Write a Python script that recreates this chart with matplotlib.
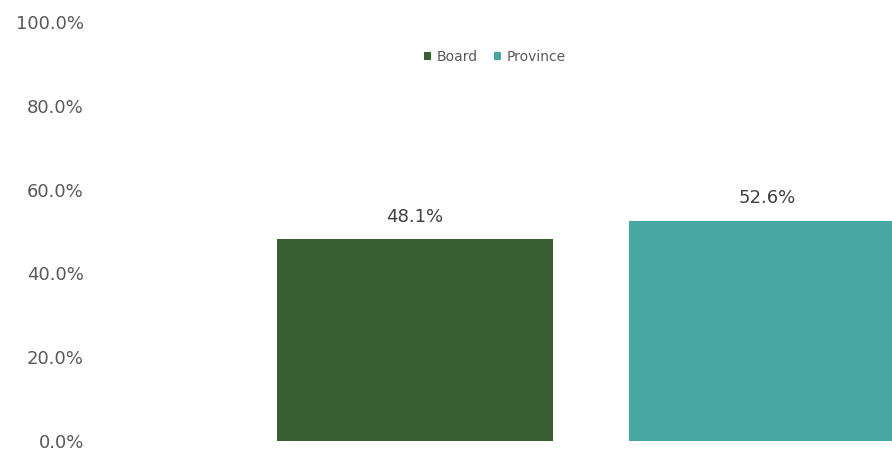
import matplotlib
matplotlib.use("Agg")
import matplotlib.pyplot as plt
from matplotlib.ticker import FuncFormatter

# Datos del gráfico
series = ["Board", "Province"]
valores = [48.1, 52.6]
colores = ["#3A5E33", "#49A7A3"]
ticks_y = [0, 20, 40, 60, 80, 100]

plt.rcParams["font.family"] = ["DejaVu Sans"]

fig = plt.figure(figsize=(8.92, 4.53), dpi=100)
ax = fig.add_axes([95 / 892, 12 / 453, 797 / 892, 419 / 453])

posiciones = list(range(len(series)))
barras = ax.bar(posiciones, valores, width=0.784, color=colores, label=series)

# Etiquetas de datos encima de cada barra
for pos, val in zip(posiciones, valores):
    ax.annotate(f"{val:.1f}%", (pos, val), xytext=(0, 10), textcoords="offset points",
                ha="center", va="bottom", fontsize=13, color="#404040")

ax.set_xlim(-0.909, 1.355)
ax.set_ylim(0, 100)
ax.set_yticks(ticks_y)
ax.yaxis.set_major_formatter(FuncFormatter(lambda v, _: f"{v:.1f}%"))
ax.tick_params(axis="y", length=0, pad=8, labelsize=13, labelcolor="#595959")
ax.set_xticks([])
for lado in ax.spines.values():
    lado.set_visible(False)

fig.legend(barras, series, loc="center", bbox_to_anchor=(495 / 892, 1 - 57 / 453),
           ncol=2, frameon=False, fontsize=10, labelcolor="#595959",
           handlelength=0.5, handleheight=0.5, handletextpad=0.4, columnspacing=1.2)

fig.savefig("out.png", dpi=100)
